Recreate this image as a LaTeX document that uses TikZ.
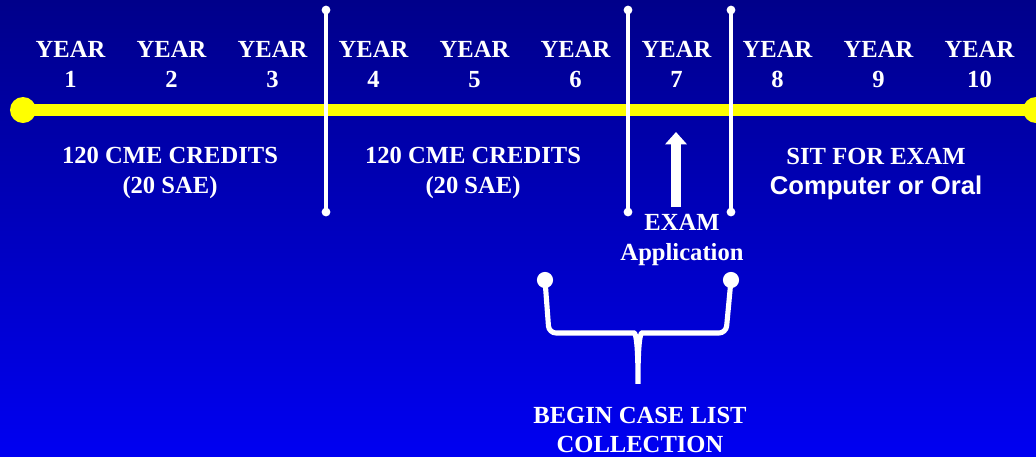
\documentclass[tikz,border=0pt]{standalone}
\usepackage{fontspec}
\setmainfont{Liberation Serif}
\newfontfamily\arialb{Liberation Sans}
\usepackage{tikz}
\usetikzlibrary{positioning,arrows.meta,calc}
\definecolor{bgtop}{HTML}{00008A}
\definecolor{bgbot}{HTML}{0000F2}
\definecolor{tline}{HTML}{FFFF00}
\tikzset{
  lbl/.style={text=white, align=center, inner sep=0pt, font=\fontsize{14}{17}\selectfont\bfseries},
  yel/.style={draw=tline, line width=6.8pt},
  sep/.style={draw=white, line width=1.8pt},
  upar/.style={draw=white, line width=5.7pt, -{Triangle[length=7pt,width=12pt]}},
  brc/.style={draw=white, line width=2.9pt, rounded corners=4pt},
}

\begin{document}
\begin{tikzpicture}[x=0.02cm, y=-0.02cm]
  \shade[top color=bgtop, bottom color=bgbot] (0,0) rectangle (1036,457);
  \useasboundingbox (0,0) rectangle (1036,457);
  \coordinate (tl) at (23,110); \coordinate (tr) at (1036,110);
  \draw[yel] (tl) -- (tr);
  \fill[tline] (tl) circle (7.4pt) (tr) circle (7.4pt);
  \foreach \i in {1,...,10}
    \node[lbl] (y\i) at ({70.5+101*(\i-1)},64.5) {YEAR\\\i};
  \foreach \x/\n in {326/a,628/b,731/c} {
    \coordinate (\n t) at (\x,10); \coordinate (\n b) at (\x,212);
    \draw[sep] (\n t) -- (\n b);
    \fill[white] (\n t) circle (2.5pt) (\n b) circle (2.5pt);
  }
  \node[lbl] (cme1) at (170,173) {120 CME CREDITS\\(20 SAE)};
  \node[lbl] (cme2) at (473,173) {120 CME CREDITS\\(20 SAE)};
  \node[lbl] (sit) at (876,174) {SIT FOR EXAM\\{\arialb\fontsize{14.6}{17}\selectfont Computer or Oral}};
  \node[lbl] (exam) at (682,240) {EXAM\\Application};
  \node[lbl] (clc) at (640,430) {BEGIN CASE LIST\\COLLECTION};
  \coordinate (a0) at (676,207); \coordinate (a1) at (676,132);
  \draw[upar] (a0) -- (a1);
  \coordinate (bl) at (545,280); \coordinate (br) at (731,280);
  \draw[brc] (bl) -- (549,333) -- (627,333) .. controls (636,333) and (638,345) .. (638,388)
    .. controls (638,345) and (640,333) .. (649,333) -- (726,333) -- (br);
  \fill[white] (bl) circle (4.6pt) (br) circle (4.6pt);
\end{tikzpicture}
\end{document}
